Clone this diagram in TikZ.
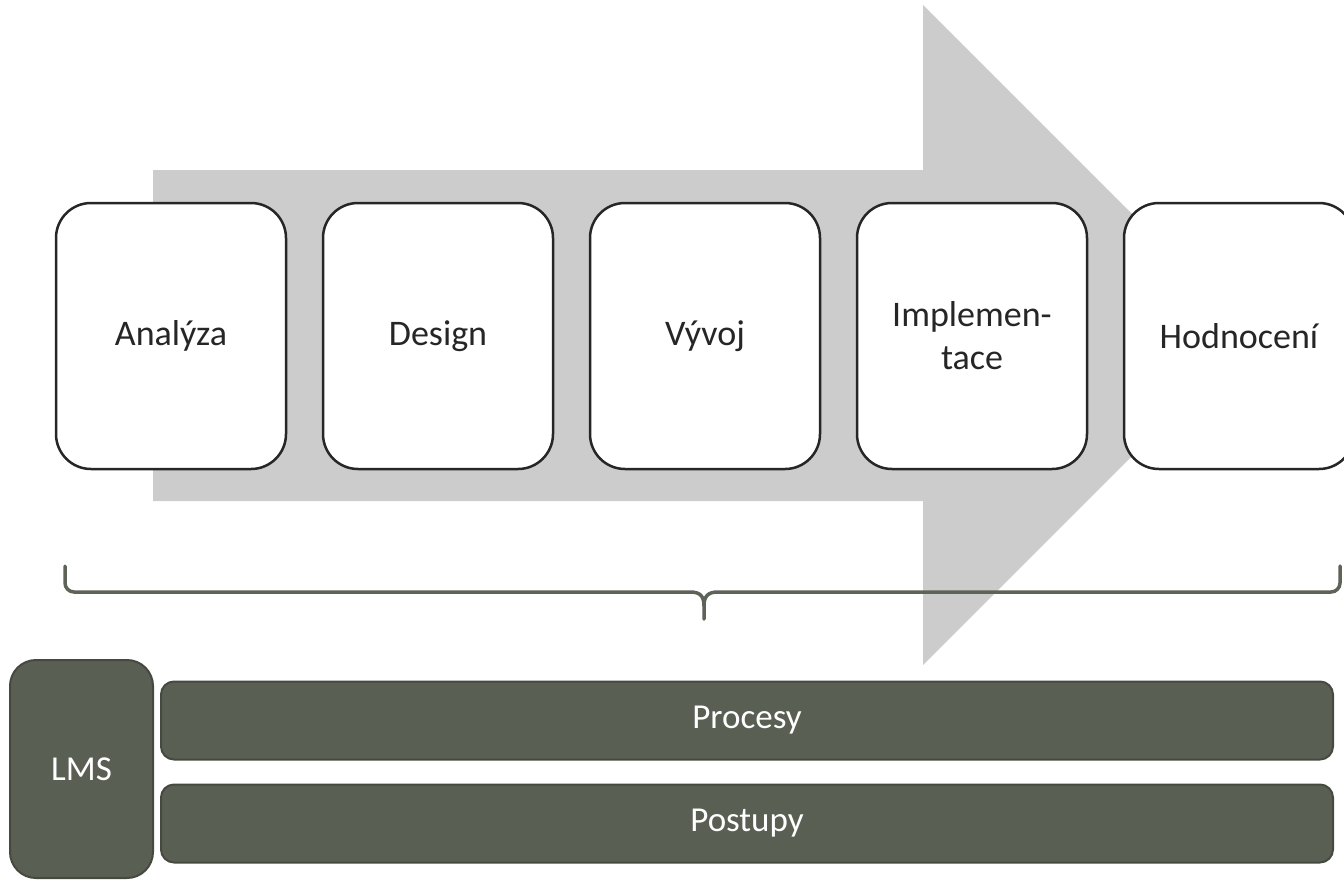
\documentclass[tikz,border=0pt]{standalone}
\usepackage{fontspec}
\setmainfont{Carlito}
\definecolor{arrowgray}{HTML}{CCCCCC}
\definecolor{boxline}{HTML}{262626}
\definecolor{olive}{HTML}{5A5F54}
\definecolor{oliveline}{HTML}{45493F}
\definecolor{bracecol}{HTML}{5E6358}
\begin{document}
\begin{tikzpicture}[x=1pt,y=-1pt,
  phase/.style={draw=boxline, line width=2.5pt, fill=white, rounded corners=35pt,
    minimum width=230pt, minimum height=266pt, align=center, inner sep=0pt,
    text=boxline, font=\fontsize{36}{43}\selectfont},
  bar/.style={draw=oliveline, line width=2pt, fill=olive, rounded corners=13pt,
    text=white, font=\fontsize{35}{40}\selectfont, inner sep=0pt},
  bracket/.style={draw=bracecol, line width=3.5pt, line cap=round, line join=round}]
\useasboundingbox (0,0) rectangle (1344,879);

% big background arrow
\fill[arrowgray] (153,170) -- (923,170) -- (923,5) -- (1253,335) -- (923,665)
  -- (923,501) -- (153,501) -- cycle;

% phases
\node[phase] (analyza) at (171,336) {Analýza};
\node[phase] (design)  at (438,336) {Design};
\node[phase] (vyvoj)   at (705,336) {Vývoj};
\node[phase] (impl)    at (972,336) {Implemen-\\tace};
\node[phase] (hodn)    at (1239,336) {Hodnocení};

% curly bracket below the phases
\coordinate (brtip) at (704,619);
\draw[bracket] (65,566) -- (65,583) arc[start angle=180, end angle=90, radius=9]
  -- (690,592) .. controls (700,592) and (704,596) .. (704,606) -- (brtip);
\draw[bracket] (1340,566) -- (1340,583) arc[start angle=0, end angle=90, radius=9]
  -- (718,592) .. controls (708,592) and (704,596) .. (704,606);

% bottom blocks
\node[bar, minimum width=143pt, minimum height=218pt, rounded corners=26pt] (lms) at (81.5,769) {LMS};
\node[bar, minimum width=1172pt, minimum height=78pt] (procesy) at (747,720.5) {Procesy};
\node[bar, minimum width=1172pt, minimum height=78pt] (postupy) at (747,823.5) {Postupy};
\end{tikzpicture}
\end{document}
